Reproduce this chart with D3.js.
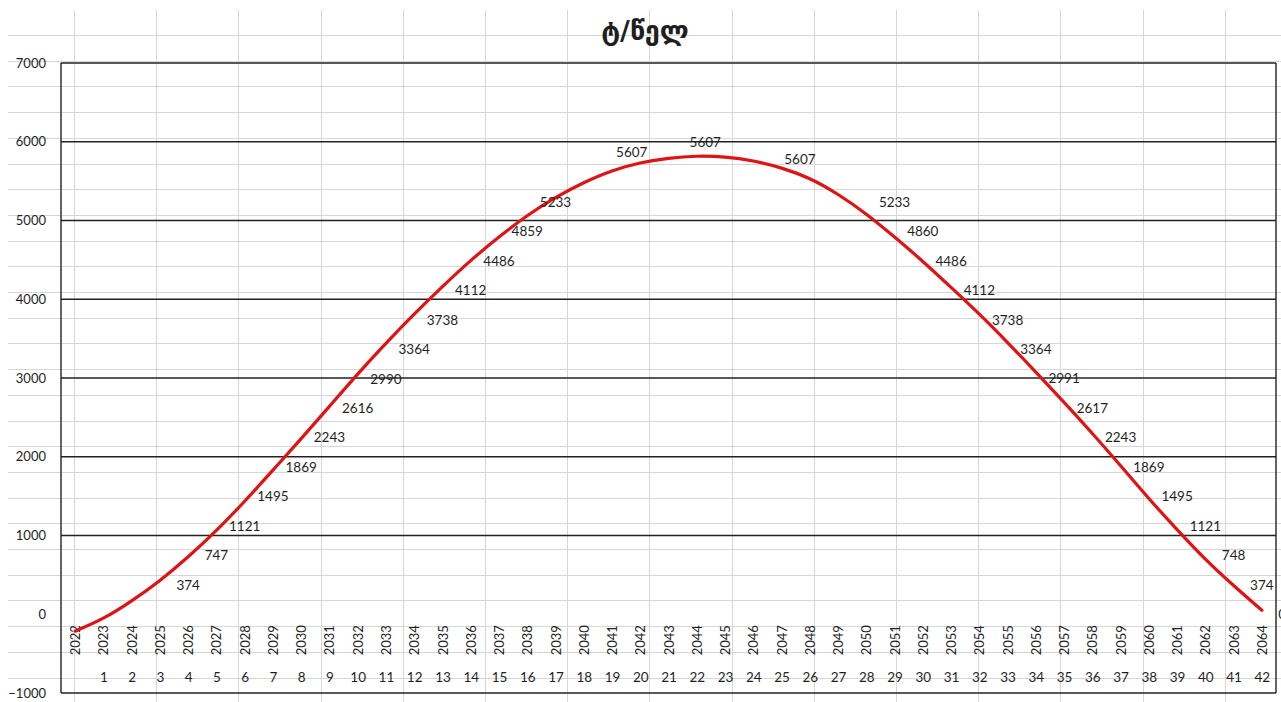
<!DOCTYPE html>
<html>
<head>
<meta charset="utf-8">
<script src="https://cdn.jsdelivr.net/npm/d3@7"></script>
<style>
  body { margin: 0; background: #fff; }
  svg { display: block; }
  text { font-family: Lato, "Open Sans", sans-serif; fill: #1f1f1f; }
</style>
</head>
<body>
<div id="chart"></div>
<script>
// category labels (years) and the running index under them
var years = [2022, 2023, 2024, 2025, 2026, 2027, 2028, 2029, 2030, 2031, 2032,
             2033, 2034, 2035, 2036, 2037, 2038, 2039, 2040, 2041, 2042, 2043,
             2044, 2045, 2046, 2047, 2048, 2049, 2050, 2051, 2052, 2053, 2054,
             2055, 2056, 2057, 2058, 2059, 2060, 2061, 2062, 2063, 2064];
var indexLabels = [1, 2, 3, 4, 5, 6, 7, 8, 9, 10, 11, 12, 13, 14, 15, 16, 17, 18,
                   19, 20, 21, 22, 23, 24, 25, 26, 27, 28, 29, 30, 31, 32, 33, 34,
                   35, 36, 37, 38, 39, 40, 41, 42];

// red curve, one value per year
var curveVals = [-215, -50, 170, 430, 730, 1065, 1435, 1830, 2230, 2640, 3050,
                 3440, 3810, 4160, 4490, 4790, 5060, 5290, 5480, 5630, 5730, 5790,
                 5816, 5805, 5755, 5665, 5530, 5330, 5080, 4790, 4480, 4150, 3810,
                 3450, 3075, 2690, 2295, 1885, 1470, 1075, 700, 365, 50];

// data labels: category index and value
var labelCats = [4, 5, 6, 7, 8, 9, 10, 11, 12, 13, 14, 15, 16, 17,
                 19.7, 22.3, 25.65,
                 29, 30, 31, 32, 33, 34, 35, 36, 37, 38, 39, 40, 41, 42, 42.72];
var labelVals = [374, 747, 1121, 1495, 1869, 2243, 2616, 2990, 3364, 3738, 4112, 4486, 4859, 5233,
                 5607, 5607, 5607,
                 5233, 4860, 4486, 4112, 3738, 3364, 2991, 2617, 2243, 1869, 1495, 1121, 748, 374, 0];

var yTicks = [-1000, 0, 1000, 2000, 3000, 4000, 5000, 6000, 7000];
var title = "ტ/წელ";

(function() {
    var W = 1281, H = 702;
    var plot = {left: 61, right: 1276, top: 63, bottom: 693};

    var svg = d3.select("#chart").append("svg")
        .attr("width", W)
        .attr("height", H);

    //spreadsheet cells behind the chart
    var sheet = svg.append("g").attr("stroke", "#d6d6d6").attr("stroke-width", 1);
    var colX = d3.range(74, W, 82.2);
    var rowY = d3.range(35, H, 25.7);
    sheet.selectAll(".col").data(colX).enter().append("line")
        .attr("x1", function(d) { return Math.round(d) + 0.5; })
        .attr("x2", function(d) { return Math.round(d) + 0.5; })
        .attr("y1", 10).attr("y2", H);
    sheet.selectAll(".row").data(rowY).enter().append("line")
        .attr("y1", function(d) { return Math.round(d) + 0.5; })
        .attr("y2", function(d) { return Math.round(d) + 0.5; })
        .attr("x1", 8).attr("x2", W);

    //scales
    var x = d3.scaleLinear().domain([-0.5, years.length - 0.5]).range([plot.left, plot.right]);
    var y = d3.scaleLinear().domain([-1000, 7000]).range([plot.bottom, plot.top]);

    //horizontal gridlines (no line at 0)
    svg.append("g").selectAll("line")
        .data(yTicks.filter(function(d) { return d !== 0; }))
        .enter().append("line")
        .attr("x1", plot.left).attr("x2", plot.right)
        .attr("y1", function(d) { return y(d); })
        .attr("y2", function(d) { return y(d); })
        .attr("stroke", "#222").attr("stroke-width", 1.3);

    //plot border left / right
    svg.append("line")
        .attr("x1", plot.left).attr("x2", plot.left)
        .attr("y1", plot.top).attr("y2", plot.bottom)
        .attr("stroke", "#222").attr("stroke-width", 1.4);
    svg.append("line")
        .attr("x1", plot.right).attr("x2", plot.right)
        .attr("y1", plot.top).attr("y2", plot.bottom)
        .attr("stroke", "#222").attr("stroke-width", 1.4);

    //y axis labels
    var yAxis = svg.append("g")
        .attr("transform", "translate(" + plot.left + ",0)")
        .call(d3.axisLeft(y).tickValues(yTicks).tickFormat(d3.format("d")).tickSize(0).tickPadding(15));
    yAxis.select(".domain").remove();
    yAxis.selectAll("text")
        .style("font-family", "Lato, sans-serif")
        .style("font-size", "13px")
        .attr("fill", "#1f1f1f");

    //year labels, rotated, just under the 0 level
    var yearAxis = svg.append("g")
        .attr("transform", "translate(0," + y(0) + ")")
        .call(d3.axisBottom(x)
            .tickValues(d3.range(years.length))
            .tickFormat(function(i) { return years[i]; })
            .tickSize(0));
    yearAxis.select(".domain").remove();
    yearAxis.selectAll("text")
        .attr("transform", "translate(0,26) rotate(-90)")
        .attr("x", 0).attr("y", 0)
        .attr("dy", "0.35em")
        .attr("text-anchor", "middle")
        .style("font-family", "Lato, sans-serif")
        .style("font-size", "13px")
        .attr("fill", "#1f1f1f");

    //running index row
    var idxAxis = svg.append("g")
        .attr("transform", "translate(0," + (y(0) + 63) + ")")
        .call(d3.axisBottom(x)
            .tickValues(d3.range(1, years.length))
            .tickFormat(function(i) { return indexLabels[i - 1]; })
            .tickSize(0));
    idxAxis.select(".domain").remove();
    idxAxis.selectAll("text")
        .attr("y", 0).attr("dy", "0.35em")
        .style("font-family", "Lato, sans-serif")
        .style("font-size", "13.5px")
        .attr("fill", "#1f1f1f");

    //the red curve
    var line = d3.line()
        .x(function(d, i) { return x(i); })
        .y(function(d) { return y(d); })
        .curve(d3.curveNatural);

    svg.append("path")
        .datum(curveVals)
        .attr("d", line)
        .attr("fill", "none")
        .attr("stroke", "#de1414")
        .attr("stroke-width", 3.2)
        .attr("stroke-linecap", "round")
        .attr("stroke-linejoin", "round");

    //data labels, the three at the top were dragged up a bit
    var nudge = {14: -20, 15: -30, 16: -13};
    svg.append("g").selectAll("text")
        .data(labelVals)
        .enter().append("text")
        .attr("x", function(d, i) { return x(labelCats[i]); })
        .attr("y", function(d, i) { return y(d) + (nudge[i] || 0); })
        .attr("dy", "0.35em")
        .attr("text-anchor", "middle")
        .style("font-size", "13.5px")
        .text(function(d) { return d; });

    //title
    svg.append("text")
        .attr("x", 645)
        .attr("y", 31)
        .attr("dy", "0.35em")
        .attr("text-anchor", "middle")
        .style("font-family", "'DejaVu Sans', sans-serif")
        .style("font-weight", "bold")
        .style("font-size", "27px")
        .attr("fill", "#111")
        .text(title);
})();
</script>
</body>
</html>
